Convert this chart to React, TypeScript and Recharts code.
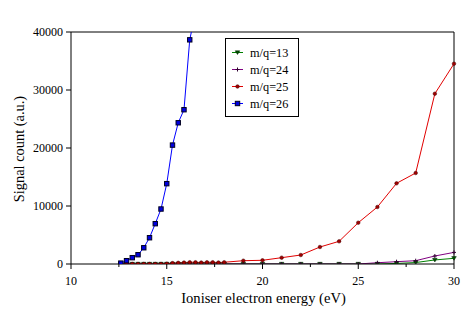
import React from 'react';
import { LineChart, Line, XAxis, YAxis, ReferenceLine, Legend } from 'recharts';

const FONT = '"Liberation Serif", "Times New Roman", serif';

// energies (eV)
const energyFine = [12.6, 12.9, 13.2, 13.5, 13.8, 14.1, 14.4, 14.7, 15.0, 15.3, 15.6, 15.9, 16.2, 16.5, 16.8, 17.1, 17.4, 17.7, 18.0];
const energyCoarse = [19, 20, 21, 22, 23, 24, 25, 26, 27, 28, 29, 30];

// m/q=26 (measured only to 16.5 eV)
const energy26 = [12.6, 12.9, 13.2, 13.5, 13.8, 14.1, 14.4, 14.7, 15.0, 15.3, 15.6, 15.9, 16.2, 16.5];
const signal26 = [150, 570, 1090, 1600, 2800, 4530, 6950, 9480, 13850, 20500, 24350, 26600, 38650, 43400];

// m/q=25
const signal25Fine = [0, 0, 0, 0, 0, 0, 0, 0, 50, 150, 200, 250, 300, 300, 250, 300, 300, 250, 300];
const signal25Coarse = [570, 640, 1090, 1550, 2930, 3910, 7120, 9830, 13910, 15690, 29360, 34530];

// m/q=24
const signal24Fine = [0, 0, 0, 0, 0, 0, 0, 0, 0, 0, 0, 0, 0, 0, 0, 0, 0, 0, 0];
const signal24Coarse = [0, 0, 0, 0, 0, 0, 0, 220, 400, 570, 1380, 2000];

// m/q=13
const signal13Fine = [0, 0, 0, 0, 0, 0, 0, 0, 0, 0, 0, 0, 0, 0, 0, 0, 0, 0, 0];
const signal13Coarse = [0, 0, 0, 0, 0, 0, 0, 0, 100, 250, 700, 980];

const xTicks = [10, 12.5, 15, 17.5, 20, 22.5, 25, 27.5, 30];
const yTicks = [0, 10000, 20000, 30000, 40000];
const seriesNames = ['m/q=13', 'm/q=24', 'm/q=25', 'm/q=26'];

const toPoints = (xs: number[], ys: number[]) => xs.map((x, i) => ({ x, y: ys[i] }));
const data13 = toPoints([...energyFine, ...energyCoarse], [...signal13Fine, ...signal13Coarse]);
const data24 = toPoints([...energyFine, ...energyCoarse], [...signal24Fine, ...signal24Coarse]);
const data25 = toPoints([...energyFine, ...energyCoarse], [...signal25Fine, ...signal25Coarse]);
const data26 = toPoints(energy26, signal26);

const COLORS = ['#008000', '#800080', '#e00000', '#0000ff'];

const TriDown = ({ cx, cy }: { cx: number; cy: number }) => (
  <polygon points={`${cx - 2.3},${cy - 1.7} ${cx + 2.3},${cy - 1.7} ${cx},${cy + 2}`} fill="#005000" stroke="#002000" strokeWidth={0.5} />
);
const Cross = ({ cx, cy }: { cx: number; cy: number }) => (
  <g stroke="#300030" strokeWidth={1}>
    <line x1={cx - 2} x2={cx + 2} y1={cy} y2={cy} />
    <line x1={cx} x2={cx} y1={cy - 2} y2={cy + 2} />
  </g>
);
const Circ = ({ cx, cy }: { cx: number; cy: number }) => (
  <circle cx={cx} cy={cy} r={1.8} fill="#a00000" stroke="#400000" strokeWidth={0.5} />
);
const Sq = ({ cx, cy }: { cx: number; cy: number }) => (
  <rect x={cx - 2.2} y={cy - 2.2} width={4.4} height={4.4} fill="#0000e0" stroke="#000020" strokeWidth={1} />
);
const MARKERS = [TriDown, Cross, Circ, Sq];

const makeDot = (idx: number) => (p: any) => {
  const M = MARKERS[idx];
  if (p.cx == null || p.cy == null) return <g key={p.index} />;
  return <M key={p.index} cx={p.cx} cy={p.cy} />;
};

const XTick = (props: any) => {
  const { x, y, payload } = props;
  const major = payload.value % 5 === 0;
  return (
    <g>
      <line x1={x} x2={x} y1={y} y2={y + (major ? 5 : 3)} stroke="#000" strokeWidth={1} />
      {major && (
        <text x={x} y={y + 21} textAnchor="middle" fill="#000" fontSize={12} fontFamily={FONT}>
          {payload.value}
        </text>
      )}
    </g>
  );
};

const XTitle = (props: any) => {
  const vb = props.viewBox || { x: 71, y: 264, width: 383, height: 69 };
  return (
    <text x={vb.x + vb.width / 2 + 1} y={vb.y + 39} textAnchor="middle" fill="#000" fontSize={14.6} fontFamily={FONT}>
      Ioniser electron energy (eV)
    </text>
  );
};

const YTitle = (props: any) => {
  const vb = props.viewBox || { x: 0, y: 32, width: 71, height: 232 };
  const cx = 19;
  const cy = vb.y + vb.height / 2 + 1;
  return (
    <text x={cx} y={cy} transform={`rotate(-90 ${cx} ${cy})`} textAnchor="middle" dominantBaseline="central" fill="#000" fontSize={14.4} fontFamily={FONT}>
      Signal count (a.u.)
    </text>
  );
};

const LegendBox = () => (
  <svg width={75} height={80} style={{ display: 'block' }}>
    <rect x={0.5} y={0.5} width={73} height={78} fill="#fff" stroke="#000" strokeWidth={1} />
    {seriesNames.map((name, i) => {
      const cy = 14.5 + i * 17;
      const M = MARKERS[i];
      return (
        <g key={name}>
          <line x1={7} x2={18} y1={cy} y2={cy} stroke={COLORS[i]} strokeWidth={1} />
          <M cx={12.5} cy={cy} />
          <text x={25} y={cy} dominantBaseline="central" fill="#000" fontSize={12.3} fontFamily={FONT}>
            {name}
          </text>
        </g>
      );
    })}
  </svg>
);

export default function App() {
  const lines = [data13, data24, data25, data26];
  return (
    <div style={{ position: 'absolute', left: 0, top: 0, width: 469, height: 333, background: '#fff' }}>
      <LineChart width={469} height={333} margin={{ top: 32, right: 15, bottom: 0, left: 0 }}>
        <XAxis
          dataKey="x"
          type="number"
          domain={[10, 30]}
          ticks={xTicks}
          interval={0}
          height={69}
          tickSize={0}
          tickMargin={0}
          tickLine={false}
          tick={<XTick />}
          axisLine={{ stroke: '#000', strokeWidth: 1 }}
          label={<XTitle />}
          allowDuplicatedCategory={false}
        />
        <YAxis
          type="number"
          domain={[0, 40000]}
          ticks={yTicks}
          allowDataOverflow
          width={71}
          tickSize={5}
          tickMargin={3}
          tickLine={{ stroke: '#000' }}
          axisLine={{ stroke: '#000', strokeWidth: 1 }}
          tick={{ fill: '#000', fontSize: 12, fontFamily: FONT }}
          label={<YTitle />}
        />
        <ReferenceLine y={40000} stroke="#000" strokeWidth={1} />
        <ReferenceLine x={30} stroke="#000" strokeWidth={1} />
        {lines.map((d, i) => (
          <Line
            key={seriesNames[i]}
            data={d}
            dataKey="y"
            name={seriesNames[i]}
            type="linear"
            stroke={COLORS[i]}
            strokeWidth={1}
            dot={makeDot(i)}
            activeDot={false}
            isAnimationActive={false}
          />
        ))}
        <Legend
          layout="vertical"
          align="center"
          verticalAlign="middle"
          content={() => <LegendBox />}
          wrapperStyle={{ position: 'absolute', left: 225, top: 38, width: 75, height: 80 }}
        />
      </LineChart>
    </div>
  );
}
